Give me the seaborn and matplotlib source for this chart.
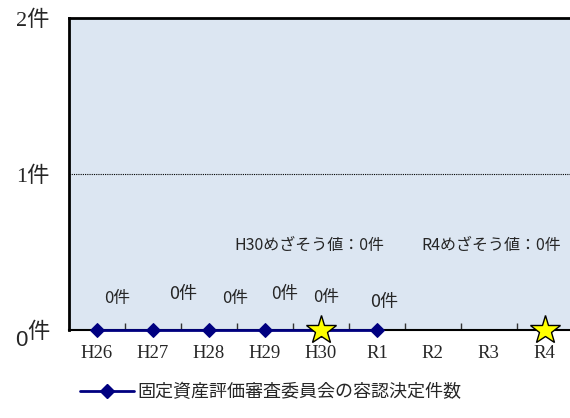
import numpy as np
import pandas as pd
import matplotlib
matplotlib.use('Agg')
import matplotlib.pyplot as plt
import seaborn as sns
from matplotlib.lines import Line2D

# data
years = ['H26', 'H27', 'H28', 'H29', 'H30', 'R1', 'R2', 'R3', 'R4']
counts = [0, 0, 0, 0, 0, 0, np.nan, np.nan, np.nan]
target_years = ['H30', 'R4']
target_values = [0, 0]
target_texts = ['H30めざそう値：0件', 'R4めざそう値：0件']
y_ticks = [0, 1, 2]
y_tick_labels = ['件', '1件', '2件']
series_name = '固定資産評価審査委員会の容認決定件数'

# hand-placed data label positions (dragged in the original)
label_dx = [0.36, 0.54, 0.46, 0.36, 0.09, 0.13]
label_y = [0.205, 0.23, 0.205, 0.23, 0.21, 0.18]
label_fs = [12, 13, 12, 12.5, 12, 13]
target_dx = [-0.2, -0.95]

sns.set_theme(style='white')
plt.rcParams['font.family'] = ['Noto Sans CJK JP', 'DejaVu Sans']
serif = ['Liberation Serif', 'Noto Sans CJK JP']
navy = '#000080'

df = pd.DataFrame({'year': years, 'count': counts})
df['pos'] = np.arange(len(years))

fig = plt.figure(figsize=(5.7, 4.18), dpi=100)
ax = fig.add_axes([0.121, 0.2105, 0.884, 0.7465])
ax.set_facecolor('#DCE6F2')

sns.lineplot(data=df.dropna(), x='pos', y='count', ax=ax, color=navy,
             linewidth=2, marker='D', markersize=7, markeredgecolor=navy,
             zorder=5, clip_on=False, legend=False)

tpos = [years.index(t) for t in target_years]
ax.plot(tpos, target_values, linestyle='none', marker='*', markersize=22,
        markerfacecolor='#FFFF00', markeredgecolor='black', markeredgewidth=1,
        zorder=6, clip_on=False)

for i in range(len(label_dx)):
    ax.text(i + label_dx[i], label_y[i], '%d件' % counts[i], ha='center',
            va='center', fontsize=label_fs[i])

for t, dx, txt in zip(tpos, target_dx, target_texts):
    ax.text(t + dx, 0.54, txt, ha='center', va='center', fontsize=11.5)

ax.set_xlim(-0.5, 8.45)
ax.set_ylim(0, 2)
ax.set_xticks(np.arange(len(years)))
ax.set_xticklabels(years, fontfamily=serif, fontsize=13.5)
ax.set_xticks(np.arange(len(years)) + 0.5, minor=True)
ax.tick_params(axis='x', which='major', length=0, pad=11)
ax.tick_params(axis='x', which='minor', direction='in', length=5, width=1,
               color='#333333', bottom=True)
ax.set_yticks(y_ticks)
ax.set_yticklabels(y_tick_labels, fontfamily=serif, fontsize=16)
ax.tick_params(axis='y', length=0, pad=14)
ax.axhline(1, color='black', linestyle=(0, (1, 1)), linewidth=0.8)
ax.text(-0.095, -0.035, '0', transform=ax.transAxes, ha='center', va='center',
        fontsize=16, fontfamily=['Liberation Sans', 'DejaVu Sans'])

ax.set_xlabel('')
ax.set_ylabel('')
for s in ['left', 'top']:
    ax.spines[s].set_linewidth(2)
    ax.spines[s].set_color('black')
ax.spines['bottom'].set_linewidth(1.5)
ax.spines['bottom'].set_color('black')
ax.spines['right'].set_visible(False)

handle = Line2D([], [], color=navy, linewidth=2, marker='D', markersize=7)
fig.legend([handle], [series_name], loc='center', bbox_to_anchor=(0.475, 0.062),
           frameon=False, fontsize=13, handlelength=3, handletextpad=0.2)

fig.savefig('out.png', dpi=100)
